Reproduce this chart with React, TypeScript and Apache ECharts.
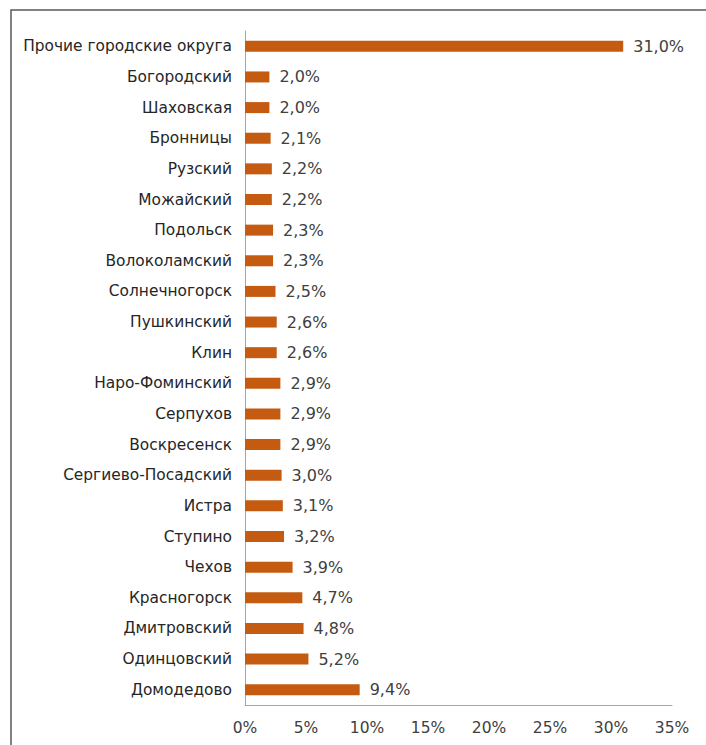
import React, { useEffect, useRef } from "react";
import * as echarts from "echarts";

const categories = [
  "Прочие городские округа",
  "Богородский",
  "Шаховская",
  "Бронницы",
  "Рузский",
  "Можайский",
  "Подольск",
  "Волоколамский",
  "Солнечногорск",
  "Пушкинский",
  "Клин",
  "Наро-Фоминский",
  "Серпухов",
  "Воскресенск",
  "Сергиево-Посадский",
  "Истра",
  "Ступино",
  "Чехов",
  "Красногорск",
  "Дмитровский",
  "Одинцовский",
  "Домодедово",
];
const values = [31.0, 2.0, 2.0, 2.1, 2.2, 2.2, 2.3, 2.3, 2.5, 2.6, 2.6, 2.9, 2.9, 2.9, 3.0, 3.1, 3.2, 3.9, 4.7, 4.8, 5.2, 9.4];

const FONT = "'DejaVu Sans', sans-serif";

export default function App() {
  const ref = useRef<HTMLDivElement>(null);
  useEffect(() => {
    const chart = echarts.init(ref.current!, null, { renderer: "svg" });
    chart.setOption({
      animation: false,
      backgroundColor: "#ffffff",
      graphic: [
        {
          type: "rect",
          shape: { x: 11, y: 10, width: 720, height: 760 },
          style: { fill: "none", stroke: "#5a5a5a", lineWidth: 1.5 },
          silent: true,
        },
      ],
      grid: { left: 245, right: 34, top: 31, bottom: 40 },
      xAxis: {
        type: "value",
        min: 0,
        max: 35,
        interval: 5,
        splitLine: { show: false },
        axisLine: { show: true, lineStyle: { color: "#a6a6a6", width: 1 } },
        axisTick: { show: false },
        axisLabel: {
          formatter: (v: number) => v + "%",
          color: "#404040",
          fontFamily: FONT,
          fontSize: 15.5,
          margin: 15,
        },
      },
      yAxis: {
        type: "category",
        inverse: true,
        data: categories,
        axisLine: { show: true, lineStyle: { color: "#a6a6a6", width: 1 } },
        axisTick: { show: false },
        axisLabel: {
          color: "#262626",
          fontFamily: FONT,
          fontSize: 15.4,
          margin: 13,
        },
      },
      series: [
        {
          type: "bar",
          data: values,
          barWidth: 11,
          itemStyle: { color: "#c55a11" },
          label: {
            show: true,
            position: "right",
            distance: 10,
            formatter: (p: any) => p.value.toFixed(1).replace(".", ",") + "%",
            color: "#404040",
            fontFamily: FONT,
            fontSize: 16,
          },
        },
      ],
    });
    return () => chart.dispose();
  }, []);
  return (
    <div
      ref={ref}
      style={{ position: "fixed", left: 0, top: 0, width: 706, height: 745 }}
    />
  );
}
